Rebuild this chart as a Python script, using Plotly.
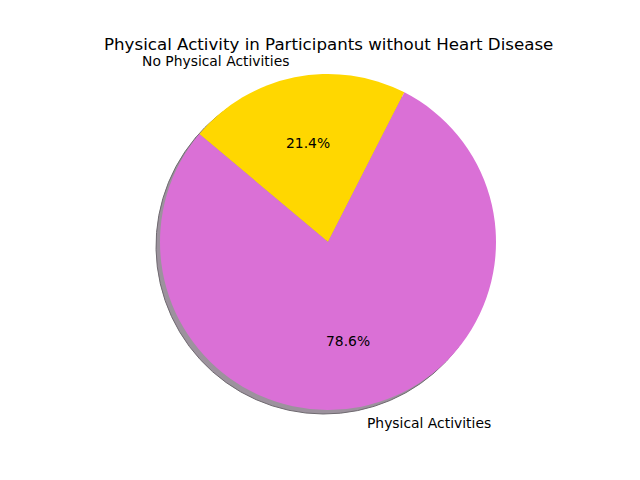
import math
import plotly.graph_objects as go

labels = ["No Physical Activities", "Physical Activities"]
values = [21.4, 78.6]
colors = ["#FFD700", "#DA70D6"]
title_text = "Physical Activity in Participants without Heart Disease"

W, H = 640, 480
cx, cy, R = 328, 242, 168
start_angle = 140  # degrees, counterclockwise from +x; slices drawn clockwise
shadow_dx, shadow_dy = -4, 4

def px2x(px):
    return px / W

def py2y(py):
    return 1 - py / H

fig = go.Figure()

# shadow
fig.add_trace(go.Pie(
    values=values, labels=labels, sort=False, direction="clockwise",
    rotation=90 - start_angle,
    marker=dict(colors=["#9c929d"] * len(values), line=dict(color="#6f6a70", width=1)),
    textinfo="none", hoverinfo="skip", showlegend=False,
    domain=dict(x=[px2x(cx - R + shadow_dx), px2x(cx + R + shadow_dx)],
                y=[py2y(cy + R + shadow_dy), py2y(cy - R + shadow_dy)]),
))

fig.add_trace(go.Pie(
    values=values, labels=labels, sort=False, direction="clockwise",
    rotation=90 - start_angle,
    marker=dict(colors=colors, line=dict(width=0)),
    textinfo="none", showlegend=False,
    domain=dict(x=[px2x(cx - R), px2x(cx + R)], y=[py2y(cy + R), py2y(cy - R)]),
))

annotations = []
total = sum(values)
theta = start_angle
for lab, v in zip(labels, values):
    span = 360 * v / total
    mid = math.radians(theta - span / 2)
    theta -= span
    c, s = math.cos(mid), math.sin(mid)
    # label at 1.1 R
    lx, ly = cx + 1.1 * R * c, cy - 1.1 * R * s
    annotations.append(dict(
        x=px2x(lx), y=py2y(ly), xref="paper", yref="paper", text=lab, showarrow=False,
        xanchor="left" if c > 0 else "right", yanchor="middle",
        font=dict(family="DejaVu Sans", size=13.89, color="black"),
    ))
    # percent at 0.6 R
    tx, ty = cx + 0.6 * R * c, cy - 0.6 * R * s
    annotations.append(dict(
        x=px2x(tx), y=py2y(ty), xref="paper", yref="paper",
        text=f"{100 * v / total:.1f}%", showarrow=False,
        xanchor="center", yanchor="middle",
        font=dict(family="DejaVu Sans", size=13.89, color="black"),
    ))

annotations.append(dict(
    x=px2x(328), y=py2y(44), xref="paper", yref="paper", text=title_text,
    showarrow=False, xanchor="center", yanchor="middle",
    font=dict(family="DejaVu Sans", size=16.67, color="black"),
))

fig.update_layout(
    width=W, height=H, margin=dict(l=0, r=0, t=0, b=0),
    paper_bgcolor="white", plot_bgcolor="white",
    annotations=annotations,
)

fig.write_html("out.html", config={"displayModeBar": False},
               post_script="document.body.style.margin='0px';")
